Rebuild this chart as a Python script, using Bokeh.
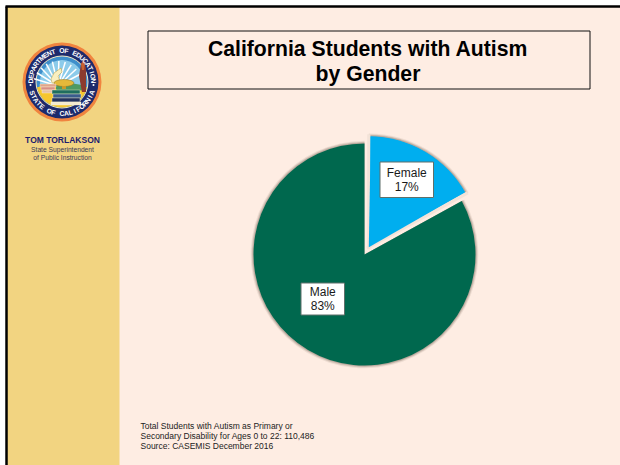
import math
from bokeh.core.properties import value
from bokeh.embed import file_html
from bokeh.models import Range1d
from bokeh.plotting import figure
from bokeh.resources import INLINE

categories = ["Female", "Male"]
shares = [17, 83]
pie_colors = ["#00AEEF", "#00684E"]
title_lines = ["California Students with Autism", "by Gender"]
footnote_lines = [
    "Total Students with Autism as Primary or",
    "Secondary Disability for Ages 0 to 22: 110,486",
    "Source: CASEMIS December 2016",
]
sidebar_lines = ["State Superintendent", "of Public Instruction"]

W, H = 620, 465
FONT = value("Liberation Sans")


def Y(py):
    """Convert a y offset from the page top into plot coordinates."""
    return H - py


p = figure(width=W, height=H, output_backend="svg", toolbar_location=None,
           x_range=Range1d(0, W), y_range=Range1d(0, H), min_border=0,
           background_fill_color="#FFFFFF", outline_line_color=None)
p.axis.visible = False
p.grid.visible = False

# Slide panels and frame
p.quad(left=6, right=W, top=Y(6), bottom=0, fill_color="#FEEDE3", line_color=None)
p.quad(left=6, right=119, top=Y(6), bottom=0, fill_color="#F2D481", line_color=None)
p.line([6, 6], [0, Y(6)], line_color="#000000", line_width=2.5)
p.line([5, W], [Y(6), Y(6)], line_color="#000000", line_width=2.5)

# Title box
p.quad(left=147.5, right=589.5, top=Y(30.5), bottom=Y(88.5), fill_color="#FEEDE3",
       line_color="#111111", line_width=1)
for line, py in zip(title_lines, [47.5, 72.5]):
    p.text(x=[367.5], y=[Y(py)], text=[line], text_font=FONT, text_font_style="bold",
           text_font_size="21.2px", text_align="center", text_baseline="middle",
           text_color="#000000")

# Pie: each wedge spans the angle its share implies, clockwise from twelve o'clock
total = sum(shares)
start = math.pi / 2
centers = {"Female": (368.3, 246.7), "Male": (364.0, 254.0)}
for order in ["Male", "Female"]:
    i = categories.index(order)
    before = sum(shares[:i])
    a0 = start - 2 * math.pi * before / total
    a1 = a0 - 2 * math.pi * shares[i] / total
    cx, cy = centers[order]
    # Soft halo
    for grow, alpha in [(2.8, 0.12), (1.8, 0.22), (0.9, 0.3)]:
        p.wedge(x=[cx], y=[Y(cy)], radius=111 + grow, start_angle=a1, end_angle=a0,
                fill_color="#7A6A5C", fill_alpha=alpha, line_color=None)
    p.wedge(x=[cx], y=[Y(cy)], radius=111, start_angle=a1, end_angle=a0,
            fill_color=pie_colors[i], line_color=None)

# Pale separators around the pulled-out slice
fa0 = start
fa1 = start - 2 * math.pi * shares[0] / total
fx, fy = centers["Female"]
for ang in [fa0, fa1]:
    p.line([fx - 2 * math.cos(ang), fx + 113 * math.cos(ang)],
           [Y(fy) - 2 * math.sin(ang), Y(fy) + 113 * math.sin(ang)],
           line_color="#F3E3D8", line_width=3.2)
p.wedge(x=[fx], y=[Y(fy)], radius=110.5, start_angle=fa1 + 0.018, end_angle=fa0 - 0.018,
        fill_color=pie_colors[0], line_color=None)

# Data labels in white boxes
label_boxes = [(379.5, 433, 161.5, 197), (300.5, 344, 282.5, 314.5)]
label_y = [(172.5, 186.5), (291, 305)]
for i in range(2):
    l, r, t, b = label_boxes[i]
    p.quad(left=l, right=r, top=Y(t), bottom=Y(b), fill_color="#FFFFFF",
           line_color="#5F6F6A", line_width=1)
    for txt, py in zip([categories[i], f"{shares[i]}%"], label_y[i]):
        p.text(x=[(l + r) / 2], y=[Y(py)], text=[txt], text_font=FONT, text_font_size="12px",
               text_align="center", text_baseline="middle", text_color="#1A1A1A")

# Footnote
for line, py in zip(footnote_lines, [425, 435.5, 445.5]):
    p.text(x=[140], y=[Y(py)], text=[line], text_font=FONT, text_font_size="8.5px",
           text_align="left", text_baseline="middle", text_color="#222222")

# Sidebar caption
p.text(x=[62], y=[Y(139)], text=["TOM TORLAKSON"], text_font=FONT, text_font_style="bold",
       text_font_size="8.5px", text_align="center", text_baseline="middle", text_color="#1B1B6E")
for line, py in zip(sidebar_lines, [148.5, 156.5]):
    p.text(x=[62], y=[Y(py)], text=[line], text_font=FONT, text_font_size="6.7px",
           text_align="center", text_baseline="middle", text_color="#3A3A5A")

# Department seal
SX, SY = 61.5, 81.5
cy = Y(SY)


def sp(dx, dy):
    """Seal-local offset (right, down) to plot coordinates."""
    return SX + dx, cy - dy


def blob(points, color, line=None):
    xs, ys = zip(*[sp(*pt) for pt in points])
    p.patch(list(xs), list(ys), fill_color=color, line_color=line, line_width=0.5)


p.circle(x=[SX], y=[cy], radius=39.5, fill_color="#F0843F", line_color=None)
p.circle(x=[SX], y=[cy], radius=36.5, fill_color="#1D2A6C", line_color=None)
p.circle(x=[SX], y=[cy], radius=26, fill_color="#3F8FCB", line_color="#F3EBC8", line_width=1)
p.circle(x=[SX], y=[cy], radius=22, fill_color="#8CCBEA", line_color=None)

# Sun rays fanning out from behind the lamp
ray_angles = [math.radians(a) for a in range(28, 170, 15)]
ox, oy = sp(-4, 4)
p.segment(x0=[ox] * len(ray_angles), y0=[oy] * len(ray_angles),
          x1=[ox + 25 * math.cos(a) for a in ray_angles],
          y1=[oy + 25 * math.sin(a) for a in ray_angles],
          line_color="#FFFFFF", line_width=1.5)

# Yellow ground with a patch of green behind the lamp
p.wedge(x=[SX], y=[cy], radius=25.5, start_angle=math.radians(192), end_angle=math.radians(348),
        fill_color="#F6C62E", line_color=None)
blob([(-6, 3), (8, 1), (20, 3), (24, 8), (10, 9), (-6, 8)], "#4E9A62")

# Flame swirl above the lamp
blob([(-11, -3), (-8, -9), (-1, -14), (0, -10), (-4, -6), (-2, -1), (-6, 1), (-10, 1)], "#F9EFC0", "#B59A3A")

# Oil lamp on its foot
p.ellipse(x=[sp(2, 1)[0]], y=[sp(2, 1)[1]], width=20, height=7, fill_color="#E4B93A",
          line_color="#8A6D1F", line_width=0.5)
p.quad(left=[sp(0, 0)[0]], right=[sp(4, 0)[0]], top=[sp(0, 4)[1]], bottom=[sp(0, 7)[1]],
       fill_color="#C99A28", line_color=None)

# Book stacks
book_left = [-22, -21, -20, -10, -9, -10, -11]
book_right = [-6, -7, -5, 18, 19, 18, 19]
book_top = [2, 5, 8, 8, 12, 16, 20]
book_bottom = [5, 8, 11, 12, 16, 20, 23]
book_fill = ["#E0A58C", "#D88F86", "#E4C1A8", "#1F6E5E", "#3A5C8C", "#24345F", "#F4EBD0"]
p.quad(left=[sp(v, 0)[0] for v in book_left], right=[sp(v, 0)[0] for v in book_right],
       top=[sp(0, v)[1] for v in book_top], bottom=[sp(0, v)[1] for v in book_bottom],
       fill_color=book_fill, line_color="#FFF3D0", line_width=0.4)

# Torch in a raised hand
blob([(19, -18), (22, -20), (24, -14), (24, 10), (20, 10), (17, -6)], "#8C3B2E")
blob([(19, -18), (21, -22), (23, -18), (22, -12), (20, -12)], "#C9622F")

# Lettering round the ring, one rotated character at a time
def ring_text(text, mid_deg, step_deg, radius, clockwise=True):
    n = len(text)
    for k, ch in enumerate(text):
        off = (k - (n - 1) / 2) * step_deg
        deg = mid_deg - off if clockwise else mid_deg + off
        a = math.radians(deg)
        rot = a - math.pi / 2 if clockwise else a + math.pi / 2
        p.text(x=[SX + radius * math.cos(a)], y=[cy + radius * math.sin(a)], text=[ch],
               angle=rot, text_font=FONT, text_font_style="bold", text_font_size="6.8px",
               text_align="center", text_baseline="middle", text_color="#FFFFFF")


ring_text("DEPARTMENT OF EDUCATION", 90, 8.0, 31.5)
ring_text("STATE OF CALIFORNIA", 270, 7.8, 31.5, clockwise=False)

# Small dots separating the two ring inscriptions
p.circle(x=[SX - 31.5, SX + 31.5], y=[cy - 3, cy - 3], radius=1, fill_color="#FFFFFF", line_color=None)

open("out.html", "w").write(file_html(p, INLINE))
